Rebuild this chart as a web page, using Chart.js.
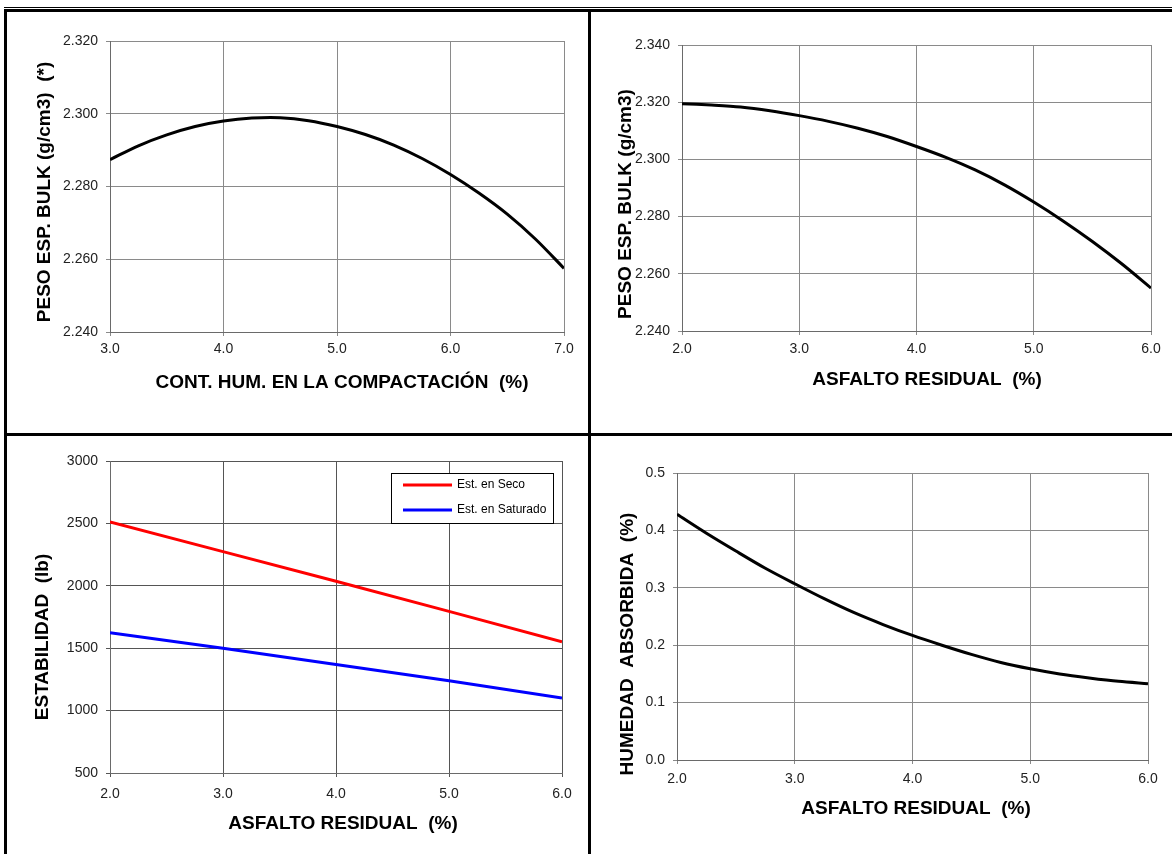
<!DOCTYPE html>
<html>
<head>
<meta charset="utf-8">
<script src="https://cdn.jsdelivr.net/npm/chart.js@4.4.1/dist/chart.umd.min.js"></script>
<style>
  body { margin: 0; background: #fff; width: 1172px; height: 854px; position: relative; overflow: hidden; }
  canvas { position: absolute; }
  .rule { position: absolute; background: #000; }
</style>
</head>
<body>
<div class="rule" style="left:4px;top:7px;width:1168px;height:1px"></div>
<div class="rule" style="left:4px;top:9px;width:1168px;height:3px"></div>
<div class="rule" style="left:4px;top:9px;width:3px;height:845px"></div>
<div class="rule" style="left:588px;top:9px;width:3px;height:845px"></div>
<div class="rule" style="left:4px;top:433px;width:1168px;height:3px"></div>

<canvas id="c1" width="581" height="421" style="left:7px;top:12px"></canvas>
<canvas id="c2" width="581" height="421" style="left:591px;top:12px"></canvas>
<canvas id="c3" width="581" height="418" style="left:7px;top:436px"></canvas>
<canvas id="c4" width="581" height="418" style="left:591px;top:436px"></canvas>

<script>
'use strict';

// --- data ---
let humedadX = [3.0, 3.25, 3.5, 3.75, 4.0, 4.25, 4.5, 4.75, 5.0, 5.25, 5.5, 5.75, 6.0, 6.25, 6.5, 6.75, 7.0];
let pesoHumedad = [2.2874, 2.2912, 2.2942, 2.2965, 2.2980, 2.2988, 2.2989, 2.2981, 2.2965, 2.2943, 2.2914, 2.2877, 2.2833, 2.2782, 2.2724, 2.2655, 2.2575];

let asfaltoX = [2.0, 2.25, 2.5, 2.75, 3.0, 3.25, 3.5, 3.75, 4.0, 4.25, 4.5, 4.75, 5.0, 5.25, 5.5, 5.75, 6.0];
let pesoAsfalto = [2.3195, 2.3190, 2.3183, 2.3170, 2.3153, 2.3133, 2.3109, 2.3080, 2.3045, 2.3007, 2.2963, 2.2911, 2.2851, 2.2785, 2.2713, 2.2635, 2.2550];

let estabilidadX = [2.0, 3.0, 4.0, 5.0, 6.0];
let estSeco = [2512, 2274, 2036, 1795, 1551];
let estSaturado = [1624, 1500, 1370, 1240, 1100];

let humedadAbsorbida = [0.428, 0.395, 0.364, 0.334, 0.307, 0.281, 0.257, 0.236, 0.217, 0.200, 0.184, 0.170, 0.159, 0.150, 0.143, 0.137, 0.133];

let serieNames = ['Est. en Seco', 'Est. en Saturado'];

// --- helpers ---
const FONT = '"Liberation Sans", Arial, sans-serif';

function toPoints(xs, ys) {
  return xs.map((x, i) => ({ x: x, y: ys[i] }));
}

// draws both axis titles where the original had them
const axisTitles = {
  id: 'axisTitles',
  afterDraw(chart, args, o) {
    const ctx = chart.ctx;
    ctx.save();
    ctx.font = 'bold 19px ' + FONT;
    ctx.fillStyle = '#000';
    ctx.textAlign = 'center';
    ctx.textBaseline = 'middle';
    ctx.fillText(o.xText, o.xPos[0], o.xPos[1]);
    ctx.translate(o.yPos[0], o.yPos[1]);
    ctx.rotate(-Math.PI / 2);
    ctx.fillText(o.yText, 0, 0);
    ctx.restore();
  }
};

// boxed legend inside the plot, like the excel one
const boxLegend = {
  id: 'boxLegend',
  afterDatasetsDraw(chart, args, o) {
    if (!o.rect) return;
    const ctx = chart.ctx;
    const [x, y, w, h] = o.rect;
    ctx.save();
    ctx.fillStyle = '#fff';
    ctx.fillRect(x, y, w, h);
    ctx.strokeStyle = '#000';
    ctx.lineWidth = 1;
    ctx.strokeRect(x + 0.5, y + 0.5, w, h);
    ctx.font = '12px ' + FONT;
    ctx.textBaseline = 'middle';
    chart.data.datasets.forEach((ds, i) => {
      const ry = y + 12 + i * 25;
      ctx.strokeStyle = ds.borderColor;
      ctx.lineWidth = 3;
      ctx.beginPath();
      ctx.moveTo(x + 12, ry);
      ctx.lineTo(x + 61, ry);
      ctx.stroke();
      ctx.fillStyle = '#000';
      ctx.fillText(ds.label, x + 66, ry);
    });
    ctx.restore();
  }
};

function makeChart(id, box, plot, cfg) {
  const padTop = plot.t - box.t;
  const padRight = box.l + box.w - plot.r;
  const yWidth = plot.l - box.l;
  const xHeight = box.t + box.h - plot.b;
  const gridColor = cfg.gridColor || '#8a8a8a';

  const tickFont = { family: FONT, size: 14 };

  return new Chart(document.getElementById(id), {
    type: 'scatter',
    data: { datasets: cfg.datasets },
    options: {
      responsive: false,
      animation: false,
      events: [],
      layout: { padding: { top: padTop, right: padRight, left: 0, bottom: 0 } },
      elements: { point: { radius: 0 } },
      scales: {
        x: {
          type: 'linear',
          min: cfg.xMin,
          max: cfg.xMax,
          ticks: { stepSize: 1, color: '#222', font: tickFont, padding: cfg.xPad, maxRotation: 0,
            callback: v => v.toFixed(1) },
          grid: { color: gridColor, tickLength: 4 },
          border: { color: '#6a6a6a' },
          afterFit: s => { s.height = xHeight; }
        },
        y: {
          type: 'linear',
          min: cfg.yMin,
          max: cfg.yMax,
          ticks: { stepSize: cfg.yStep, color: '#222', font: tickFont, padding: 8,
            callback: v => v.toFixed(cfg.yDec) },
          grid: { color: gridColor, tickLength: 4 },
          border: { color: '#6a6a6a' },
          afterFit: s => { s.width = yWidth; }
        }
      },
      plugins: {
        legend: { display: false },
        tooltip: { enabled: false },
        axisTitles: {
          xText: cfg.xTitle,
          yText: cfg.yTitle,
          xPos: [cfg.xTitlePos[0] - box.l, cfg.xTitlePos[1] - box.t],
          yPos: [cfg.yTitlePos[0] - box.l, cfg.yTitlePos[1] - box.t]
        },
        boxLegend: {
          rect: cfg.legendRect ? [cfg.legendRect[0] - box.l, cfg.legendRect[1] - box.t, cfg.legendRect[2], cfg.legendRect[3]] : null
        }
      }
    },
    plugins: [axisTitles, boxLegend]
  });
}

function blackCurve(xs, ys) {
  return {
    label: '',
    data: toPoints(xs, ys),
    showLine: true,
    borderColor: '#000',
    borderWidth: 3,
    tension: 0.3
  };
}

// top left
makeChart('c1',
  { l: 7, t: 12, w: 581, h: 421 },
  { l: 110, t: 41, r: 564, b: 332 },
  {
    datasets: [blackCurve(humedadX, pesoHumedad)],
    xMin: 3, xMax: 7, yMin: 2.24, yMax: 2.32, yStep: 0.02, yDec: 3, xPad: 5,
    xTitle: 'CONT. HUM. EN LA COMPACTACIÓN  (%)', xTitlePos: [342, 383],
    yTitle: 'PESO ESP. BULK (g/cm3)  (*)', yTitlePos: [45, 192]
  });

// top right
makeChart('c2',
  { l: 591, t: 12, w: 581, h: 421 },
  { l: 682, t: 45, r: 1151, b: 331 },
  {
    datasets: [blackCurve(asfaltoX, pesoAsfalto)],
    xMin: 2, xMax: 6, yMin: 2.24, yMax: 2.34, yStep: 0.02, yDec: 3, xPad: 6,
    xTitle: 'ASFALTO RESIDUAL  (%)', xTitlePos: [927, 380],
    yTitle: 'PESO ESP. BULK (g/cm3)', yTitlePos: [626, 204]
  });

// bottom left
makeChart('c3',
  { l: 7, t: 436, w: 581, h: 418 },
  { l: 110, t: 461, r: 562, b: 773 },
  {
    datasets: [
      { label: serieNames[0], data: toPoints(estabilidadX, estSeco), showLine: true, borderColor: '#ff0000', borderWidth: 3 },
      { label: serieNames[1], data: toPoints(estabilidadX, estSaturado), showLine: true, borderColor: '#0000ff', borderWidth: 3 }
    ],
    gridColor: '#555',
    xMin: 2, xMax: 6, yMin: 500, yMax: 3000, yStep: 500, yDec: 0, xPad: 9,
    xTitle: 'ASFALTO RESIDUAL  (%)', xTitlePos: [343, 824],
    yTitle: 'ESTABILIDAD  (lb)', yTitlePos: [43, 637],
    legendRect: [391, 473, 162, 50]
  });

// bottom right
makeChart('c4',
  { l: 591, t: 436, w: 581, h: 418 },
  { l: 677, t: 473, r: 1148, b: 760 },
  {
    datasets: [blackCurve(asfaltoX, humedadAbsorbida)],
    xMin: 2, xMax: 6, yMin: 0, yMax: 0.5, yStep: 0.1, yDec: 1, xPad: 7,
    xTitle: 'ASFALTO RESIDUAL  (%)', xTitlePos: [916, 809],
    yTitle: 'HUMEDAD  ABSORBIDA  (%)', yTitlePos: [628, 644]
  });
</script>
</body>
</html>
